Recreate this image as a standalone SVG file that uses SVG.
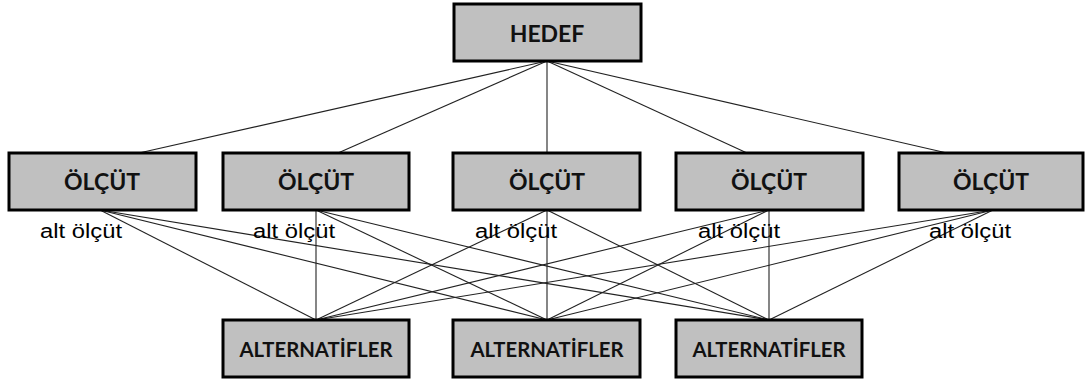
<svg xmlns="http://www.w3.org/2000/svg" width="1086" height="381" viewBox="0 0 1086 381">
  <style>
    .box { fill: #c0c0c0; stroke: #000; stroke-width: 3; }
    .title { font-family: Lato, "Open Sans", "DejaVu Sans", sans-serif; font-weight: 700; fill: #111; text-anchor: middle; }
    .big { font-size: 23px; }
    .alt { font-size: 20px; }
    .sub { font-family: "Liberation Sans", Arial, sans-serif; font-size: 19.5px; fill: #000; }
    .link { stroke: #222; stroke-width: 1.1; fill: none; }
  </style>
  <rect width="1086" height="381" fill="#fff"/>

  <!-- connectors -->
  <g id="connectors" class="link">
    <!-- goal to criteria -->
    <line x1="547" y1="61" x2="139" y2="153"/>
    <line x1="547" y1="61" x2="338" y2="153"/>
    <line x1="547" y1="61" x2="547" y2="153"/>
    <line x1="547" y1="61" x2="747" y2="153"/>
    <line x1="547" y1="61" x2="947" y2="153"/>
    <!-- criteria to alternatives -->
    <line x1="100" y1="210" x2="316" y2="320"/>
    <line x1="100" y1="210" x2="547" y2="320"/>
    <line x1="100" y1="210" x2="769" y2="320"/>
    <line x1="316" y1="210" x2="316" y2="320"/>
    <line x1="316" y1="210" x2="547" y2="320"/>
    <line x1="316" y1="210" x2="769" y2="320"/>
    <line x1="547" y1="210" x2="316" y2="320"/>
    <line x1="547" y1="210" x2="547" y2="320"/>
    <line x1="547" y1="210" x2="769" y2="320"/>
    <line x1="769" y1="210" x2="316" y2="320"/>
    <line x1="769" y1="210" x2="547" y2="320"/>
    <line x1="769" y1="210" x2="769" y2="320"/>
    <line x1="993" y1="210" x2="316" y2="320"/>
    <line x1="993" y1="210" x2="547" y2="320"/>
    <line x1="993" y1="210" x2="769" y2="320"/>
  </g>

  <!-- goal -->
  <g id="hedef">
    <rect class="box" x="454" y="4" width="187" height="57"/>
    <text class="title big" x="547" y="42">HEDEF</text>
  </g>

  <!-- criteria -->
  <g id="olcut-1">
    <rect class="box" x="9" y="153" width="187" height="57"/>
    <text class="title big" x="102" y="190">ÖLÇÜT</text>
    <text class="sub" x="40" y="238" textLength="82" lengthAdjust="spacingAndGlyphs">alt ölçüt</text>
  </g>
  <g id="olcut-2">
    <rect class="box" x="223" y="153" width="186" height="57"/>
    <text class="title big" x="316" y="190">ÖLÇÜT</text>
    <text class="sub" x="253" y="238" textLength="82" lengthAdjust="spacingAndGlyphs">alt ölçüt</text>
  </g>
  <g id="olcut-3">
    <rect class="box" x="453" y="153" width="187" height="57"/>
    <text class="title big" x="547" y="190">ÖLÇÜT</text>
    <text class="sub" x="475" y="238" textLength="82" lengthAdjust="spacingAndGlyphs">alt ölçüt</text>
  </g>
  <g id="olcut-4">
    <rect class="box" x="676" y="153" width="187" height="57"/>
    <text class="title big" x="769" y="190">ÖLÇÜT</text>
    <text class="sub" x="698" y="238" textLength="82" lengthAdjust="spacingAndGlyphs">alt ölçüt</text>
  </g>
  <g id="olcut-5">
    <rect class="box" x="899" y="153" width="184" height="57"/>
    <text class="title big" x="991" y="190">ÖLÇÜT</text>
    <text class="sub" x="929" y="238" textLength="82" lengthAdjust="spacingAndGlyphs">alt ölçüt</text>
  </g>

  <!-- alternatives -->
  <g id="alternatif-1">
    <rect class="box" x="223" y="320" width="186" height="57"/>
    <text class="title alt" x="316" y="357" textLength="153" lengthAdjust="spacingAndGlyphs">ALTERNATİFLER</text>
  </g>
  <g id="alternatif-2">
    <rect class="box" x="453" y="320" width="187" height="57"/>
    <text class="title alt" x="547" y="357" textLength="153" lengthAdjust="spacingAndGlyphs">ALTERNATİFLER</text>
  </g>
  <g id="alternatif-3">
    <rect class="box" x="676" y="320" width="186" height="57"/>
    <text class="title alt" x="769" y="357" textLength="153" lengthAdjust="spacingAndGlyphs">ALTERNATİFLER</text>
  </g>
</svg>
